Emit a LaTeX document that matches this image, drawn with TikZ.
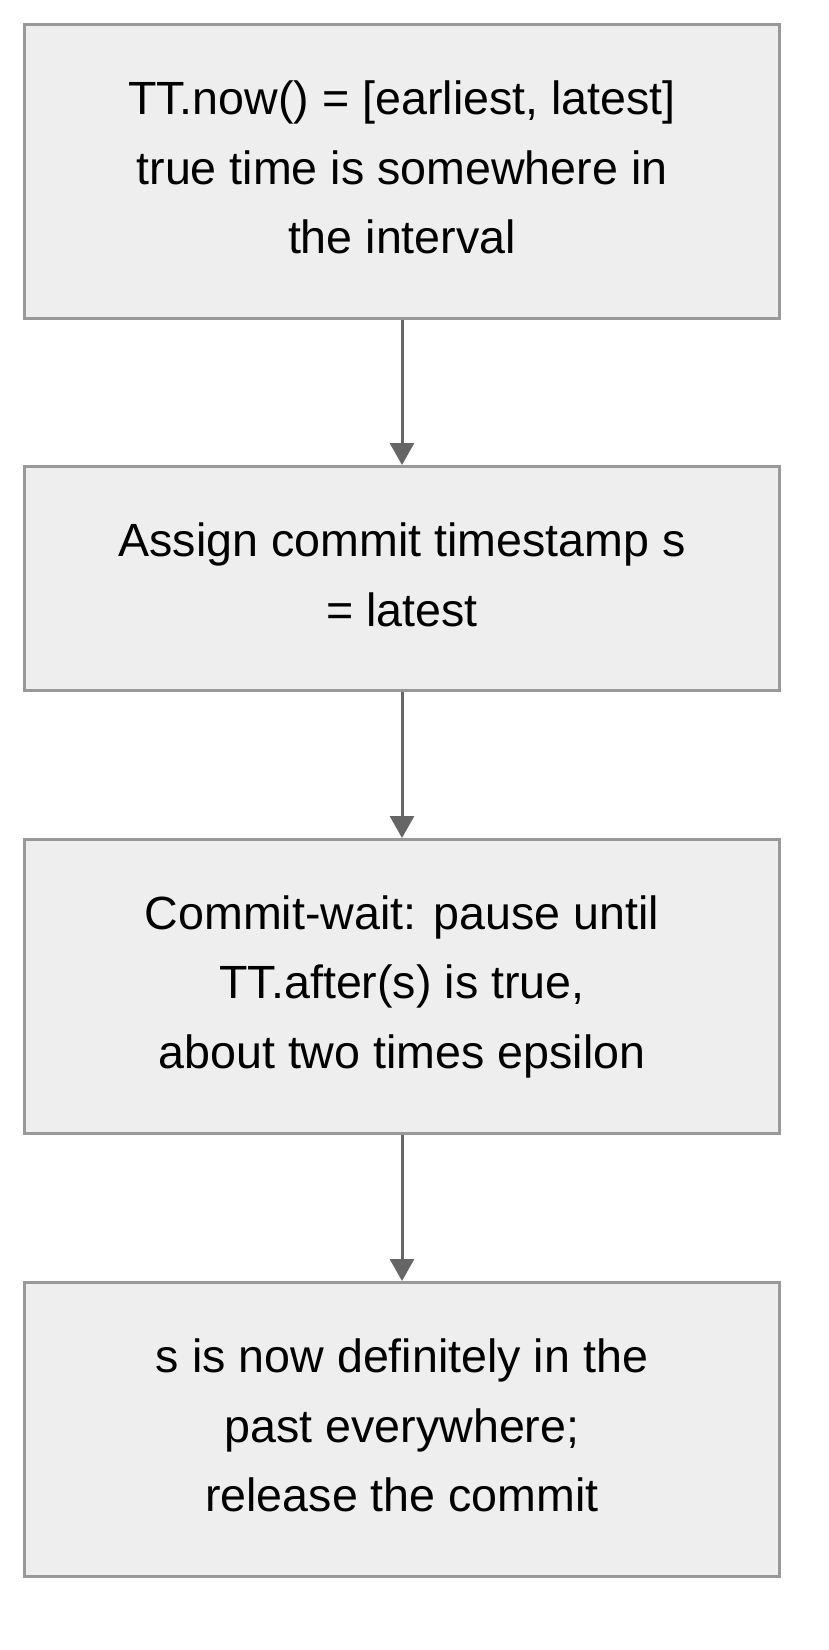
\documentclass[tikz,border=0pt]{standalone}
\usepackage{fontspec}
\setmainfont{Liberation Sans}
\usetikzlibrary{arrows.meta}
\begin{document}
\begin{tikzpicture}[x=1pt,y=1pt]
    % Define colours
    \definecolor{borderColour}{HTML}{999999}
    \definecolor{fillColour}{HTML}{EEEEEE}
    \definecolor{arrowColour}{HTML}{666666}

    % Define box width
    \def\boxWidth{755pt}

    \tikzset{
        stepBox/.style={draw=borderColour, fill=fillColour, line width=3pt,
            minimum width=\boxWidth, align=center, inner sep=0pt,
            font=\fontsize{46.6}{69.5}\selectfont},
        flowArrow/.style={draw=arrowColour, line width=3pt,
            -{Triangle[width=24pt,length=22pt]}}
    }

    % Fix the page size
    \useasboundingbox (0,0) rectangle (828,-1650);

    % Draw the boxes
    \node[stepBox, minimum height=294pt] (nowBox) at (402,-171.5)
        {TT.now() = [earliest, latest]\\true time is somewhere in\\the interval\rule[-8pt]{0pt}{8pt}};
    \node[stepBox, minimum height=224pt] (assignBox) at (402,-578.5)
        {Assign commit timestamp s\\= latest\rule[-8pt]{0pt}{8pt}};
    \node[stepBox, minimum height=294pt] (waitBox) at (402,-986.5)
        {Commit-wait: pause until\\TT.after(s) is true,\\about two times epsilon\rule[-8pt]{0pt}{8pt}};
    \node[stepBox, minimum height=294pt] (releaseBox) at (402,-1429.5)
        {s is now definitely in the\\past everywhere;\\release the commit\rule[-8pt]{0pt}{8pt}};

    % Draw the arrows
    \draw[flowArrow] (nowBox.south) -- (assignBox.north);
    \draw[flowArrow] (assignBox.south) -- (waitBox.north);
    \draw[flowArrow] (waitBox.south) -- (releaseBox.north);

\end{tikzpicture}
\end{document}
